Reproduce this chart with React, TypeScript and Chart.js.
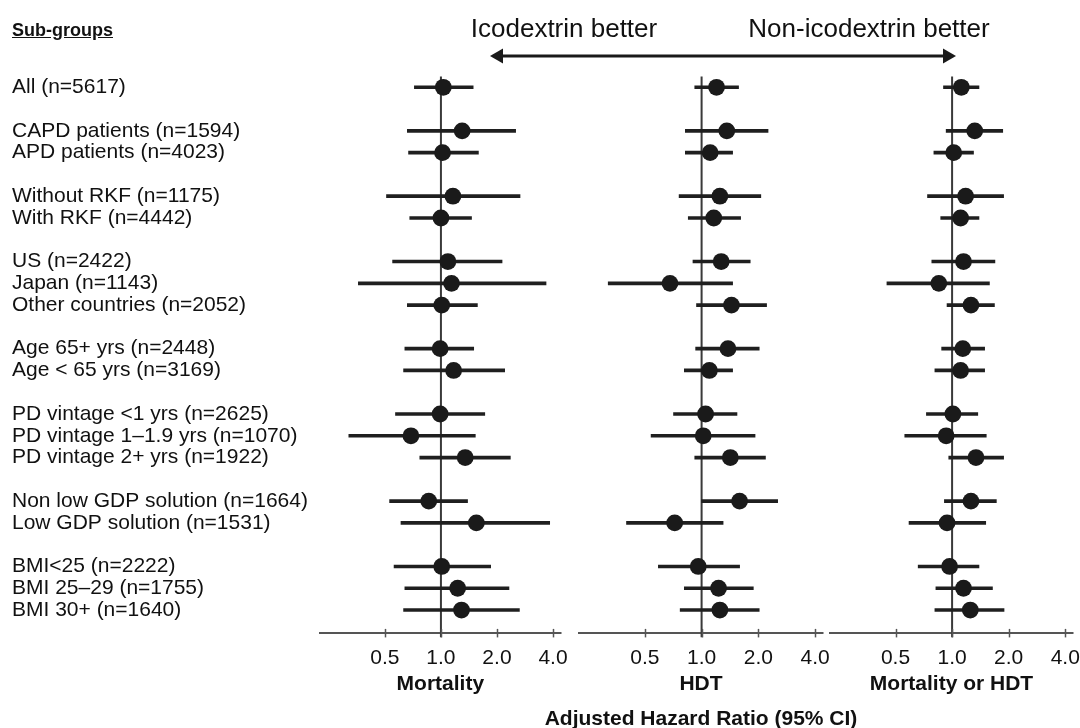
import React, { useEffect, useRef } from 'react';
import { Chart, registerables } from 'chart.js';

Chart.register(...registerables);

const FONT = '"Liberation Sans", Arial, Helvetica, sans-serif';

// Row labels ('' = spacer row between groups)
const rowLabels = [
  'All (n=5617)', '',
  'CAPD patients (n=1594)', 'APD patients (n=4023)', '',
  'Without RKF (n=1175)', 'With RKF (n=4442)', '',
  'US (n=2422)', 'Japan (n=1143)', 'Other countries (n=2052)', '',
  'Age 65+ yrs (n=2448)', 'Age < 65 yrs (n=3169)', '',
  'PD vintage <1 yrs (n=2625)', 'PD vintage 1–1.9 yrs (n=1070)', 'PD vintage 2+ yrs (n=1922)', '',
  'Non low GDP solution (n=1664)', 'Low GDP solution (n=1531)', '',
  'BMI<25 (n=2222)', 'BMI 25–29 (n=1755)', 'BMI 30+ (n=1640)',
];

// Mortality
const mortalityHR = [1.03, 1.30, 1.02, 1.16, 1.00, 1.09, 1.14, 1.01, 0.99, 1.17, 0.99, 0.69, 1.35, 0.86, 1.55, 1.01, 1.23, 1.29];
const mortalityLo = [0.72, 0.66, 0.67, 0.51, 0.68, 0.55, 0.36, 0.66, 0.64, 0.63, 0.57, 0.32, 0.77, 0.53, 0.61, 0.56, 0.64, 0.63];
const mortalityHi = [1.49, 2.52, 1.59, 2.66, 1.46, 2.13, 3.67, 1.57, 1.50, 2.20, 1.72, 1.53, 2.36, 1.39, 3.84, 1.85, 2.32, 2.64];

// HDT
const hdtHR = [1.20, 1.36, 1.11, 1.25, 1.16, 1.27, 0.68, 1.44, 1.38, 1.10, 1.05, 1.02, 1.42, 1.59, 0.72, 0.96, 1.23, 1.25];
const hdtLo = [0.92, 0.82, 0.82, 0.76, 0.85, 0.90, 0.32, 0.94, 0.93, 0.81, 0.71, 0.54, 0.92, 1.00, 0.40, 0.59, 0.81, 0.77];
const hdtHi = [1.57, 2.25, 1.46, 2.06, 1.61, 1.81, 1.46, 2.21, 2.02, 1.46, 1.54, 1.92, 2.18, 2.53, 1.30, 1.59, 1.88, 2.02];

// Mortality or HDT
const compositeHR = [1.12, 1.32, 1.02, 1.18, 1.11, 1.15, 0.85, 1.26, 1.14, 1.11, 1.01, 0.93, 1.34, 1.26, 0.94, 0.97, 1.15, 1.25];
const compositeLo = [0.90, 0.93, 0.80, 0.74, 0.87, 0.78, 0.45, 0.94, 0.88, 0.81, 0.73, 0.56, 0.96, 0.91, 0.59, 0.66, 0.82, 0.81];
const compositeHi = [1.39, 1.86, 1.30, 1.88, 1.39, 1.69, 1.58, 1.68, 1.49, 1.49, 1.37, 1.52, 1.88, 1.72, 1.51, 1.39, 1.64, 1.89];

const tickValues = [0.5, 1, 2, 4];
const axisMin = 0.224;
const axisMax = 4.4;
const referenceHR = 1;

const labelRows = rowLabels.map((l, i) => (l ? i : -1)).filter((i) => i >= 0);

const CANVAS_H = 728;
const AREA_TOP = 76.4;
const AREA_BOTTOM = 632.9;

// Tick marks that cross the axis line (drawn from the scale's own tick pixels)
const crossTicks = {
  id: 'crossTicks',
  afterDraw(chart: any) {
    const s = chart.scales.x;
    const ctx = chart.ctx;
    ctx.save();
    ctx.strokeStyle = '#555';
    ctx.lineWidth = 1.5;
    s.ticks.forEach((t: any) => {
      const px = Math.round(s.getPixelForValue(t.value)) + 0.5;
      ctx.beginPath();
      ctx.moveTo(px, s.top - 4);
      ctx.lineTo(px, s.top + 4.5);
      ctx.stroke();
    });
    ctx.restore();
  },
};

type PanelProps = {
  left: number;
  width: number;
  padLeft: number;
  padRight: number;
  showLabels: boolean;
  title: string;
  hr: number[];
  lo: number[];
  hi: number[];
};

function Panel({ left, width, padLeft, padRight, showLabels, title, hr, lo, hi }: PanelProps) {
  const ref = useRef<HTMLCanvasElement | null>(null);
  useEffect(() => {
    if (!ref.current) return;
    const chart = new Chart(ref.current, {
      type: 'scatter',
      data: {
        datasets: [
          {
            type: 'scatter',
            data: labelRows.map((r, i) => ({ x: hr[i], y: r })),
            pointRadius: 8.4,
            pointHoverRadius: 8.4,
            backgroundColor: '#1a1a1a',
            borderWidth: 0,
            order: 0,
          } as any,
          {
            type: 'bar',
            indexAxis: 'y',
            data: labelRows.map((r, i) => ({ x: [lo[i], hi[i]], y: r })),
            barThickness: 3,
            backgroundColor: '#1f1f1f',
            borderWidth: 0,
            order: 1,
          } as any,
          {
            type: 'line',
            data: [
              { x: referenceHR, y: -0.5 },
              { x: referenceHR, y: 25.25 },
            ],
            borderColor: '#3a3a3a',
            borderWidth: 2,
            pointRadius: 0,
            clip: false,
            order: 2,
          } as any,
        ],
      },
      options: {
        responsive: false,
        animation: false,
        devicePixelRatio: 1,
        events: [],
        layout: { padding: { top: AREA_TOP, bottom: 0, left: padLeft, right: padRight } },
        plugins: { legend: { display: false }, tooltip: { enabled: false } },
        scales: {
          x: {
            type: 'logarithmic',
            min: axisMin,
            max: axisMax,
            offset: false,
            position: 'bottom',
            afterBuildTicks: (s: any) => {
              s.ticks = tickValues.map((v) => ({ value: v }));
            },
            afterFit: (s: any) => {
              s.height = CANVAS_H - AREA_BOTTOM;
            },
            grid: { drawOnChartArea: false, drawTicks: true, tickLength: 5, color: 'rgba(0,0,0,0)', lineWidth: 1.5 },
            border: { display: true, color: '#555', width: 2 },
            ticks: {
              autoSkip: false,
              maxRotation: 0,
              padding: 8,
              color: '#111',
              font: { family: FONT, size: 21 },
              callback: (v: any) => Number(v).toFixed(1),
            },
            title: {
              display: true,
              text: title,
              color: '#111',
              font: { family: FONT, size: 21, weight: 'bold' },
              padding: { top: 0, bottom: 31 },
            },
          } as any,
          y: {
            type: 'linear',
            min: -0.5,
            max: 25.05,
            offset: false,
            reverse: true,
            display: showLabels,
            afterBuildTicks: (s: any) => {
              s.ticks = labelRows.map((v) => ({ value: v }));
            },
            afterFit: (s: any) => {
              if (showLabels) s.width = 320 - padLeft;
            },
            grid: { display: false },
            border: { display: false },
            ticks: {
              autoSkip: false,
              crossAlign: 'far',
              padding: 0,
              color: '#111',
              font: { family: FONT, size: 21 },
              callback: (v: any) => rowLabels[v as number],
            },
          } as any,
        },
      },
      plugins: [crossTicks],
    });
    return () => chart.destroy();
  }, []);
  return (
    <canvas
      ref={ref}
      width={width}
      height={CANVAS_H}
      style={{ position: 'absolute', left, top: 0, width, height: CANVAS_H }}
    />
  );
}

export default function App() {
  return (
    <div style={{ position: 'absolute', left: 0, top: 0, width: 1080, height: 728, overflow: 'hidden', background: '#fff', fontFamily: FONT, color: '#111' }}>
      <Panel left={0} width={576} padLeft={12} padRight={13} showLabels={true} title="Mortality" hr={mortalityHR} lo={mortalityLo} hi={mortalityHi} />
      <Panel left={560} width={280} padLeft={19} padRight={17} showLabels={false} title="HDT" hr={hdtHR} lo={hdtLo} hi={hdtHi} />
      <Panel left={815} width={285} padLeft={15} padRight={27} showLabels={false} title="Mortality or HDT" hr={compositeHR} lo={compositeLo} hi={compositeHi} />

      <div style={{ position: 'absolute', left: 12, top: 30, transform: 'translateY(-50%)', fontSize: 18, fontWeight: 'bold', textDecoration: 'underline', lineHeight: 1, whiteSpace: 'nowrap' }}>
        Sub-groups
      </div>
      <div style={{ position: 'absolute', left: 564, top: 28, transform: 'translate(-50%,-50%)', fontSize: 26, lineHeight: 1, whiteSpace: 'nowrap' }}>
        Icodextrin better
      </div>
      <div style={{ position: 'absolute', left: 869, top: 28, transform: 'translate(-50%,-50%)', fontSize: 26, lineHeight: 1, whiteSpace: 'nowrap' }}>
        Non-icodextrin better
      </div>
      <svg width={1080} height={80} style={{ position: 'absolute', left: 0, top: 0 }}>
        <line x1={500} y1={56} x2={946} y2={56} stroke="#1a1a1a" strokeWidth={3} />
        <polygon points="490,56 503,48.5 503,63.5" fill="#1a1a1a" />
        <polygon points="956,56 943,48.5 943,63.5" fill="#1a1a1a" />
      </svg>
      <div style={{ position: 'absolute', left: 701, top: 717, transform: 'translate(-50%,-50%)', fontSize: 21, fontWeight: 'bold', lineHeight: 1, whiteSpace: 'nowrap' }}>
        Adjusted Hazard Ratio (95% CI)
      </div>
    </div>
  );
}
